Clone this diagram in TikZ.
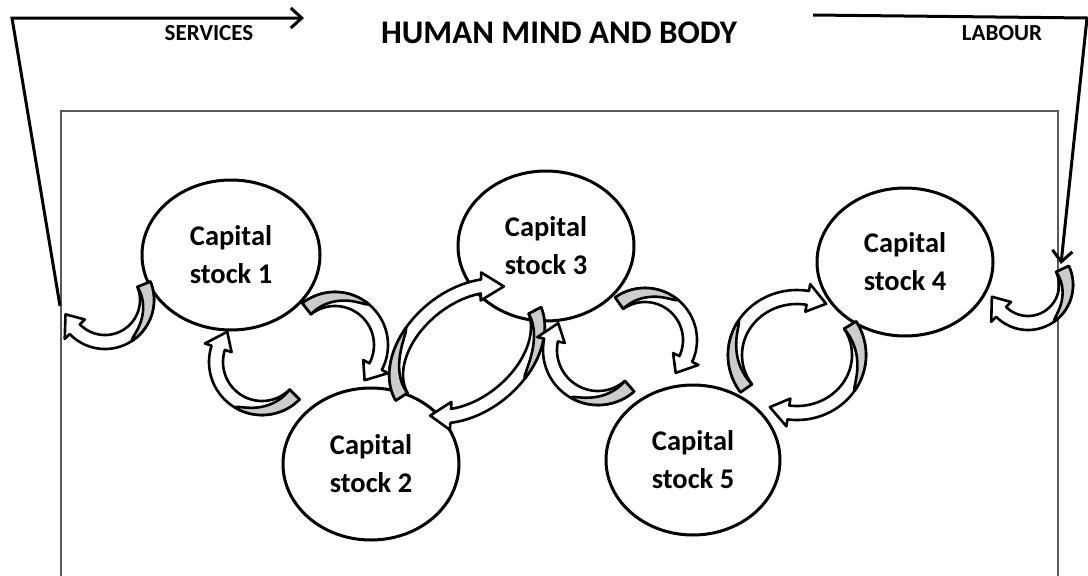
\documentclass[tikz,border=0pt]{standalone}
\usepackage{fontspec}
\setmainfont{Carlito}
\usetikzlibrary{shapes.geometric,arrows.meta}
% curved ribbon arrow: #1 cx, #2 cy, #3 rotation, #4 rx, #5 ry, #6 tail angle, #7 head base angle, #8 tip angle, #9 tip name
\newcommand\crvarrow[9]{%
\begin{scope}[shift={(#1,#2)}, rotate=#3]
  \pgfmathsetmacro\am{(#6)+0.5*((#7)-(#6))}
  \filldraw[arr, fill=white]
    plot[domain=0:1, samples=40, variable=\pp] ({((#4)+7)*cos((#6)+((#7)-(#6))*\pp)},{((#5)+7)*sin((#6)+((#7)-(#6))*\pp)})
    -- ({((#4)+14)*cos(#7)},{((#5)+14)*sin(#7)})
    -- ({(#4)*cos(#8)},{(#5)*sin(#8)})
    -- ({((#4)-14)*cos(#7)},{((#5)-14)*sin(#7)})
    -- plot[domain=0:1, samples=40, variable=\pp] ({((#4)-7)*cos((#7)+((#6)-(#7))*\pp)},{((#5)-7)*sin((#7)+((#6)-(#7))*\pp)})
    -- cycle;
  \filldraw[arr, fill=gray!40]
    plot[domain=0:1, samples=25, variable=\pp] ({((#4)+7)*cos((#6)+(\am-(#6))*\pp)},{((#5)+7)*sin((#6)+(\am-(#6))*\pp)})
    -- plot[domain=0:1, samples=25, variable=\pp] ({((#4)+7-14*(\pp)^0.6)*cos(\am+((#6)-\am)*\pp)},{((#5)+7-14*(\pp)^0.6)*sin(\am+((#6)-\am)*\pp)})
    -- cycle;
  \coordinate (#9) at ({(#4)*cos(#8)},{(#5)*sin(#8)});
\end{scope}}
\begin{document}
\begin{tikzpicture}[x=1pt,y=-1pt,
  stock/.style={ellipse, draw, fill=white, line width=3pt, minimum width=176pt, minimum height=150pt, align=center, font=\fontsize{28.5}{38}\selectfont\bfseries, inner sep=0pt},
  arr/.style={draw=black, line width=2.6pt, line join=round},
  frame/.style={draw=black!65, line width=1.4pt},
  conn/.style={line width=3pt, line join=miter, -{Straight Barb[length=11pt,width=20pt,line width=3pt]}},
  lbl/.style={font=\fontsize{23}{26}\selectfont\bfseries},
  title/.style={font=\fontsize{33}{38}\selectfont\bfseries},
]
\useasboundingbox (0,0) rectangle (1088,576);
% frame
\draw[frame] (61,590) -- (61,111) -- (1058,111) -- (1058,590);
% capital stocks
\node[stock, minimum width=178pt] (s1) at (231,255) {Capital\\stock 1};
\node[stock, minimum height=152pt] (s2) at (371,464) {Capital\\stock 2};
\node[stock] (s3) at (546,246) {Capital\\stock 3};
\node[stock, minimum height=148pt] (s4) at (905,262) {Capital\\stock 4};
\node[stock, minimum width=174pt] (s5) at (693,460) {Capital\\stock 5};
% curved arrows
\crvarrow{105}{300}{0}{42}{42}{-22}{136}{160}{a1tip}
\crvarrow{335}{345}{0}{46}{46}{-128}{28}{50}{a2tip}
\crvarrow{262}{362}{0}{46}{46}{45}{198}{221}{a3tip}
\crvarrow{467}{351}{39}{80}{54}{12}{132}{150}{a4tip}
\crvarrow{467}{351}{39}{80}{54}{186}{310}{330}{a5tip}
\crvarrow{645}{340}{0}{45}{45}{-125}{25}{47}{a6tip}
\crvarrow{598}{350}{0}{48}{48}{49}{192}{214}{a7tip}
\crvarrow{797}{355}{0}{62}{58}{-31}{98}{116}{a8tip}
\crvarrow{797}{355}{0}{62}{58}{145}{280}{298}{a9tip}
\crvarrow{1028}{285}{0}{38}{38}{-25}{135}{162}{a10tip}
% labels
\node[lbl] (services) at (209,33) {SERVICES};
\node[title] (titlelbl) at (559,33) {HUMAN MIND AND BODY};
\node[lbl] (labour) at (1002,33) {LABOUR};
% services and labour connectors
\coordinate (svcstart) at (60,306);
\coordinate (svccorner) at (12,18);
\coordinate (svcend) at (304,18);
\draw[conn] (svcstart) -- (svccorner) -- (svcend);
\coordinate (labstart) at (813,15);
\coordinate (labcorner) at (1087,18);
\coordinate (labend) at (1061,264);
\draw[conn] (labstart) -- (labcorner) -- (labend);
\end{tikzpicture}
\end{document}
